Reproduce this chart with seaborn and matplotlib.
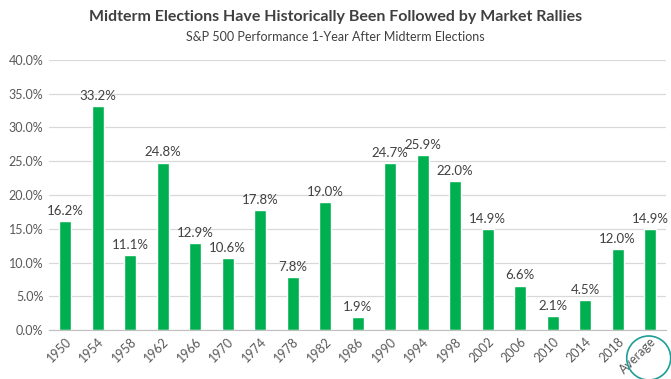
import pandas as pd
import matplotlib.pyplot as plt
import seaborn as sns
from matplotlib.patches import Ellipse

# dados
anos = ['1950', '1954', '1958', '1962', '1966', '1970', '1974', '1978', '1982', '1986',
        '1990', '1994', '1998', '2002', '2006', '2010', '2014', '2018', 'Average']
retorno = [16.2, 33.2, 11.1, 24.8, 12.9, 10.6, 17.8, 7.8, 19.0, 1.9,
           24.7, 25.9, 22.0, 14.9, 6.6, 2.1, 4.5, 12.0, 14.9]

df = pd.DataFrame({'ano': anos, 'retorno': retorno})

sns.set_style("white")
plt.rcParams['font.family'] = ['Lato', 'DejaVu Sans']

fig = plt.figure(figsize=(6.71, 3.79), dpi=100)
ax = fig.add_axes([0.073, 0.129, 0.92, 0.713])

sns.barplot(data=df, x='ano', y='retorno', color='#00B050', saturation=1, width=0.37, ax=ax)

ax.set_ylim(0, 40)
ax.set_yticks(range(0, 41, 5))
ax.set_yticklabels([f'{v:.1f}%' for v in range(0, 41, 5)], fontsize=9, color='#595959')
ax.yaxis.grid(True, color='#d9d9d9', linewidth=0.9)
ax.set_axisbelow(True)
ax.set_xlim(-0.5, len(anos) - 0.5)
ax.set_xlabel('')
ax.set_ylabel('')
for s in ['top', 'right', 'left']:
    ax.spines[s].set_visible(False)
ax.spines['bottom'].set_color('#bfbfbf')
ax.tick_params(axis='both', length=0, pad=4)
plt.setp(ax.get_xticklabels(), rotation=45, ha='right', rotation_mode='anchor',
         fontsize=9, color='#595959')

# rótulos de valor
for p, v in zip(ax.patches, retorno):
    ax.annotate(f'{v:.1f}%', (p.get_x() + p.get_width() / 2, p.get_height()),
                ha='center', va='bottom', xytext=(0, 3), textcoords='offset points',
                fontsize=9.5, color='#404040')

fig.text(0.5, 0.955, 'Midterm Elections Have Historically Been Followed by Market Rallies',
         ha='center', va='center', fontsize=11.5, fontweight='bold', color='#404040')
fig.text(0.5, 0.902, 'S&P 500 Performance 1-Year After Midterm Elections',
         ha='center', va='center', fontsize=9, color='#404040')

# círculo em volta de "Average"
fig.canvas.draw()
xd, _ = ax.transData.transform((len(anos) - 1, 0))
xf = xd / fig.bbox.width
circ = Ellipse((xf - 0.002, 1 - 358 / 379), 44 / 671, 44 / 379, transform=fig.transFigure,
               fill=False, edgecolor='#1f9e98', linewidth=1.2, clip_on=False)
fig.add_artist(circ)

fig.savefig('out.png', dpi=100)
